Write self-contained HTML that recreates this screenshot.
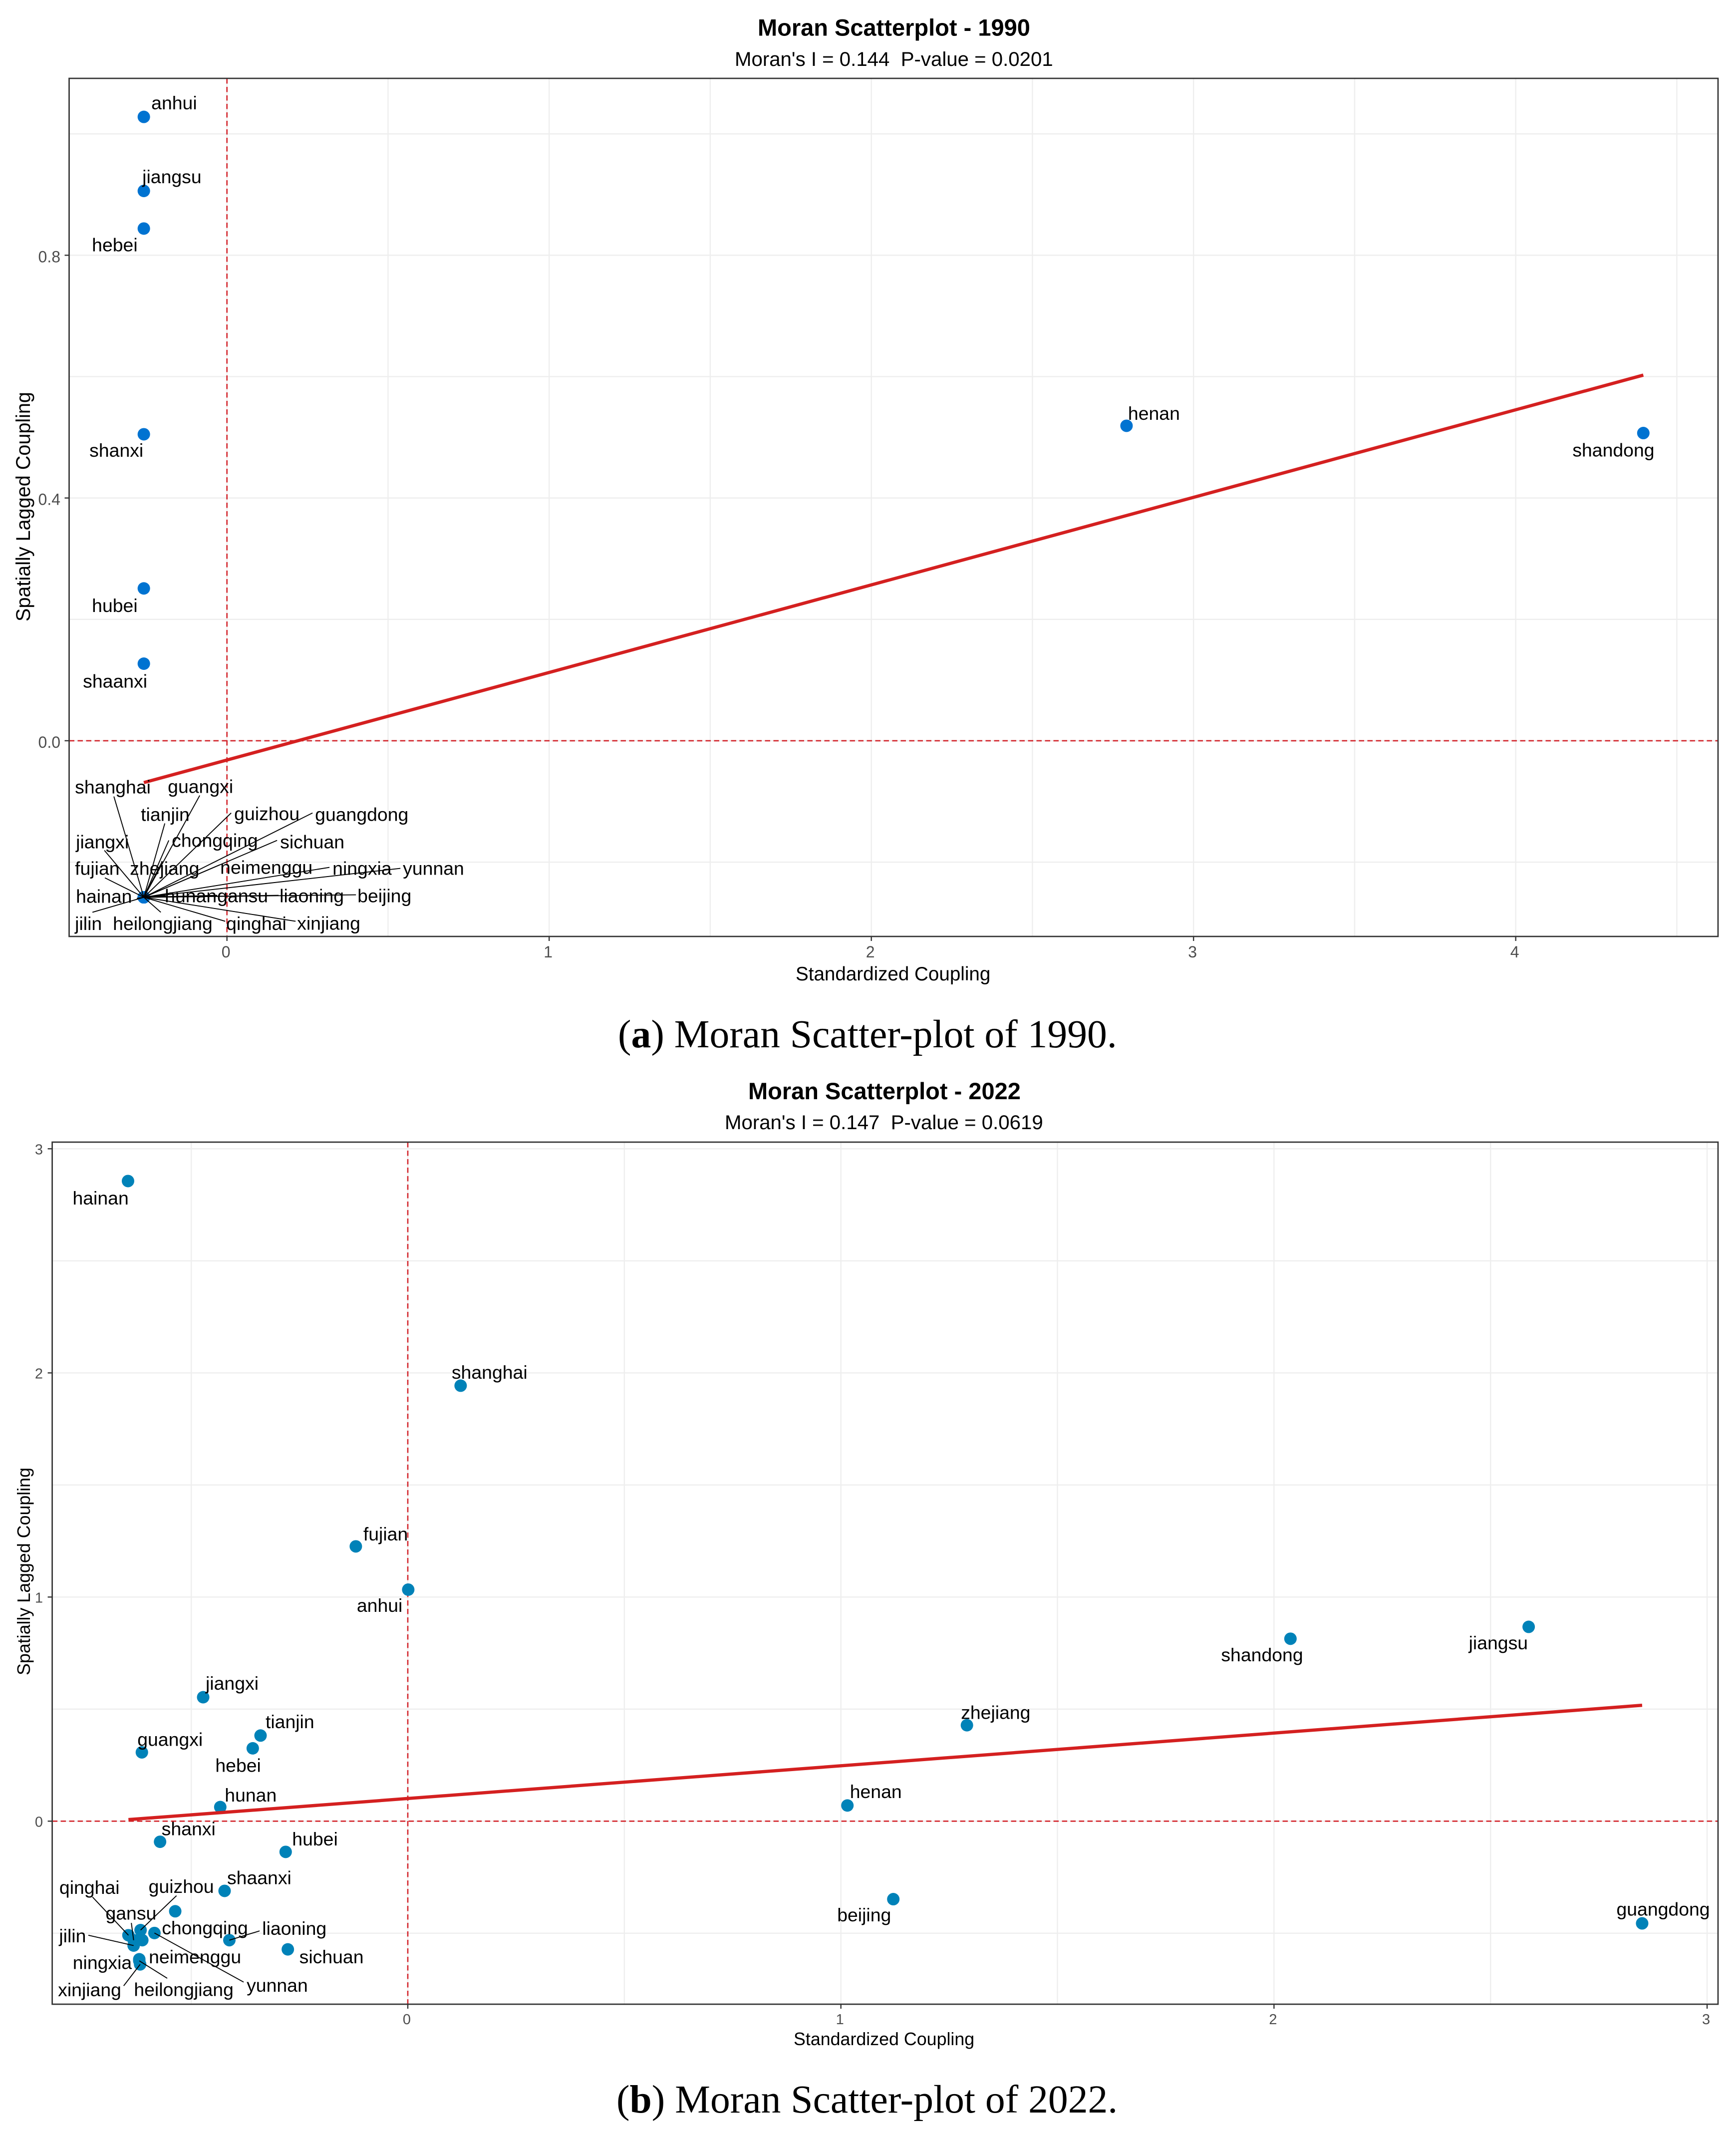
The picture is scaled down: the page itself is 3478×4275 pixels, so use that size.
<!DOCTYPE html>
<html lang="en">
<head>
<meta charset="utf-8">
<title>Moran Scatter-plots of 1990 and 2022</title>
<style>
html,body{margin:0;padding:0;background:#fff;}
svg{display:block;}
text{font-family:"Liberation Sans",sans-serif;white-space:pre;}
.caption{font-family:"Liberation Serif",serif;font-size:79.6px;fill:#000;}
.title{font-size:47px;font-weight:bold;fill:#000;}
.subtitle{font-size:40.2px;fill:#000;}
</style>
</head>
<body>
<svg id="fig" xmlns="http://www.w3.org/2000/svg" width="3478" height="4275" viewBox="0 0 3478 4275">
  <rect x="0" y="0" width="3478" height="4275" fill="#ffffff"/>
  <text class="title" x="1518" y="71.5">Moran Scatterplot - 1990</text>
  <text class="subtitle" x="1472" y="132">Moran's I = 0.144  P-value = 0.0201</text>
  <text class="caption" x="1238" y="2098">(<tspan font-weight="bold">a</tspan>) Moran Scatter-plot of 1990.</text>
  <text class="title" x="1499" y="2202">Moran Scatterplot - 2022</text>
  <text class="subtitle" x="1452" y="2262">Moran's I = 0.147  P-value = 0.0619</text>
  <text class="caption" x="1235" y="4232">(<tspan font-weight="bold">b</tspan>) Moran Scatter-plot of 2022.</text>
</svg>
<script>
// ---------- Data: 1990 ----------
const names1990 = ["anhui","jiangsu","hebei","shanxi","hubei","shaanxi","henan","shandong","shanghai","guangxi","tianjin","guizhou","guangdong","jiangxi","chongqing","sichuan","fujian","zhejiang","neimenggu","ningxia","yunnan","hainan","hunan","gansu","liaoning","beijing","jilin","heilongjiang","qinghai","xinjiang"];
const x1990 = [-0.258,-0.258,-0.258,-0.258,-0.258,-0.258,2.792,4.396,-0.258,-0.258,-0.258,-0.258,-0.258,-0.258,-0.258,-0.258,-0.258,-0.258,-0.258,-0.258,-0.258,-0.258,-0.258,-0.258,-0.258,-0.258,-0.258,-0.258,-0.258,-0.258];
const y1990 = [1.028,0.906,0.844,0.505,0.251,0.127,0.519,0.507,-0.258,-0.258,-0.258,-0.258,-0.258,-0.258,-0.258,-0.258,-0.258,-0.258,-0.258,-0.258,-0.258,-0.258,-0.258,-0.258,-0.258,-0.258,-0.258,-0.258,-0.258,-0.258];
const fitX1990 = [-0.258,4.396];
const fitY1990 = [-0.069,0.6025];
const xTicks1990 = [0,1,2,3,4];
const xTickLabels1990 = ["0","1","2","3","4"];
const yTicks1990 = [0,0.4,0.8];
const yTickLabels1990 = ["0.0","0.4","0.8"];
const xGrid1990 = [0,0.5,1,1.5,2,2.5,3,3.5,4,4.5];
const yGrid1990 = [-0.2,0,0.2,0.4,0.6,0.8,1.0];

// ---------- Data: 2022 ----------
const names2022 = ["hainan","shanghai","fujian","anhui","shandong","jiangsu","jiangxi","tianjin","hebei","guangxi","zhejiang","hunan","henan","beijing","guangdong","shanxi","hubei","shaanxi","sichuan","qinghai","guizhou","gansu","chongqing","liaoning","jilin","neimenggu","ningxia","heilongjiang","xinjiang","yunnan"];
const x2022 = [-0.646,0.122,-0.12,0.001,2.038,2.588,-0.4725,-0.34,-0.358,-0.614,1.291,-0.433,1.015,1.121,2.85,-0.572,-0.282,-0.423,-0.277,-0.645,-0.617,-0.633,-0.537,-0.412,-0.633,-0.613,-0.62,-0.62,-0.618,-0.585];
const y2022 = [2.856,1.943,1.226,1.033,0.814,0.867,0.553,0.382,0.325,0.307,0.428,0.063,0.07,-0.348,-0.456,-0.092,-0.137,-0.311,-0.572,-0.509,-0.486,-0.531,-0.402,-0.531,-0.555,-0.531,-0.616,-0.623,-0.639,-0.499];
const fitX2022 = [-0.645,2.85];
const fitY2022 = [0.007,0.517];
const xTicks2022 = [0,1,2,3];
const xTickLabels2022 = ["0","1","2","3"];
const yTicks2022 = [0,1,2,3];
const yTickLabels2022 = ["0","1","2","3"];
const xGrid2022 = [-0.5,0,0.5,1,1.5,2,2.5,3];
const yGrid2022 = [-0.5,0,0.5,1,1.5,2,2.5,3];

// ---------- Layout (label / connector offsets from each point; not data) ----------
const layout1990 = {
  anhui:[15,-15], jiangsu:[-3,-15.4], hebei:[-104,45.6], shanxi:[-109,45], hubei:[-104,47], shaanxi:[-122,48],
  henan:[3,-12], shandong:[-142,47],
  shanghai:[-138,-208,-60,-202], guangxi:[48,-209,112,-204], tianjin:[-6,-153,42,-148], guizhou:[181,-154.5,175,-169],
  guangdong:[343,-153,338,-169], jiangxi:[-136,-98,-79,-94], chongqing:[56,-101,50,-114], sichuan:[273,-98,267,-114],
  fujian:[-138,-45,-78,-39], zhejiang:[-28,-45,37,-72], neimenggu:[153,-47,152,-65], ningxia:[378,-45,372,-60],
  yunnan:[519,-45,514,-58], hainan:[-136,11,-14,2], hunan:[42,10,44,-3], gansu:[147,10,147,-4], liaoning:[272,10,270,-4],
  beijing:[428,10,425,-5], jilin:[-138,65.5,-103,30], heilongjiang:[-62,65.5,34,30], qinghai:[165,65.5,163,48], xinjiang:[307,65,304,48]
};
const layout2022 = {
  hainan:[-111,47], shanghai:[-18,-14], fujian:[15,-12], anhui:[-103,44.5], shandong:[-139,45], jiangsu:[-120,45],
  jiangxi:[5,-15], tianjin:[10,-15], hebei:[-75,47], guangxi:[-9,-13], zhejiang:[-12,-12.5], hunan:[9,-11], henan:[5,-15],
  beijing:[-112.5,44.6], guangdong:[-51.5,-15.5], shanxi:[3,-13], hubei:[13,-13], shaanxi:[5,-13.4], sichuan:[23,28],
  qinghai:[-138.4,-83,-72,-76.6], guizhou:[16,-74.6,72,-69], gansu:[-56.3,-41,-4.6,-34.6], chongqing:[-26.8,46],
  liaoning:[65.8,-10.7,60.6,-18.6], jilin:[-149.4,-6.4,-90.7,-20.7], neimenggu:[13,46.2], ningxia:[-133.3,19.8],
  heilongjiang:[-10.7,70.7,56,35], xinjiang:[-164.6,63.7,-33,43], yunnan:[184.7,117.6,178.7,98.3]
};

const SVG_NS = "http://www.w3.org/2000/svg";
const fig = document.getElementById("fig");

function make(parent, tag, attrs, text) {
  const node = document.createElementNS(SVG_NS, tag);
  for (const key in attrs) node.setAttribute(key, attrs[key]);
  if (text !== undefined) node.textContent = text;
  parent.appendChild(node);
  return node;
}

function drawPlot(cfg) {
  const xs = v => cfg.x0 + cfg.xUnit * v;
  const ys = v => cfg.y0 - cfg.yUnit * v;
  const group = make(fig, "g", {});
  
  

  cfg.xGrid.forEach(v => {
    const gridX = make(group, "line", {x1:xs(v), x2:xs(v), y1:cfg.top, y2:cfg.bottom, stroke:"#eeeeee", "stroke-width":2.4});
    
    
  });
  cfg.yGrid.forEach(v => {
    const gridY = make(group, "line", {x1:cfg.left, x2:cfg.right, y1:ys(v), y2:ys(v), stroke:"#eeeeee", "stroke-width":2.4});
    
    
  });

  const refV = make(group, "line", {x1:xs(0), x2:xs(0), y1:cfg.top, y2:cfg.bottom, stroke:"#d2232a", "stroke-width":2.6, "stroke-dasharray":"10.5 6.5"});
  
  
  const refH = make(group, "line", {x1:cfg.left, x2:cfg.right, y1:ys(0), y2:ys(0), stroke:"#d2232a", "stroke-width":2.6, "stroke-dasharray":"10.5 6.5"});
  
  

  cfg.names.forEach((name, i) => {
    const dot = make(group, "circle", {cx:xs(cfg.xVals[i]), cy:ys(cfg.yVals[i]), r:12.5, fill:cfg.color});
    
    
  });

  const fit = make(group, "line", {x1:xs(cfg.fitX[0]), y1:ys(cfg.fitY[0]), x2:xs(cfg.fitX[1]), y2:ys(cfg.fitY[1]), stroke:"#d42020", "stroke-width":6.5});
  
  

  cfg.names.forEach((name, i) => {
    const off = cfg.layout[name];
    const px = xs(cfg.xVals[i]);
    const py = ys(cfg.yVals[i]);
    if (off.length > 2) {
      const seg = make(group, "line", {x1:px, y1:py, x2:px + off[2], y2:py + off[3], stroke:"#000000", "stroke-width":1.9});
      
      
    }
    const label = make(group, "text", {x:px + off[0], y:py + off[1], "font-size":37.4, fill:"#000000"}, name);
    
    
  });

  const panel = make(group, "rect", {x:cfg.left, y:cfg.top, width:cfg.right - cfg.left, height:cfg.bottom - cfg.top, fill:"none", stroke:"#333333", "stroke-width":2.7});
  
  

  cfg.xTicks.forEach((v, i) => {
    const tick = make(group, "line", {x1:xs(v), x2:xs(v), y1:cfg.bottom, y2:cfg.bottom + 9, stroke:"#333333", "stroke-width":2.4});
    
    
    const tickText = make(group, "text", {x:xs(v) - 2, y:cfg.xTickBase, "font-size":cfg.tickFont, fill:"#4d4d4d", "text-anchor":"middle"}, cfg.xTickLabels[i]);
    
    
  });
  cfg.yTicks.forEach((v, i) => {
    const tick = make(group, "line", {x1:cfg.left - 9, x2:cfg.left, y1:ys(v), y2:ys(v), stroke:"#333333", "stroke-width":2.4});
    
    
    const tickText = make(group, "text", {x:cfg.yTickRight, y:ys(v) + cfg.yTickShift, "font-size":cfg.tickFont, fill:"#4d4d4d", "text-anchor":"end"}, cfg.yTickLabels[i]);
    
    
  });

  const xTitle = make(group, "text", {x:cfg.xTitleX, y:cfg.xTitleY, "font-size":cfg.axisFont, fill:"#000000"}, "Standardized Coupling");
  
  
  const yTitle = make(group, "text", {x:0, y:0, "font-size":cfg.yAxisFont, fill:"#000000", "text-anchor":"middle", transform:"translate(60 " + cfg.yTitleY + ") rotate(-90)"}, "Spatially Lagged Coupling");
  
  
}

drawPlot({
  year:1990, names:names1990, xVals:x1990, yVals:y1990, fitX:fitX1990, fitY:fitY1990,
  xTicks:xTicks1990, xTickLabels:xTickLabels1990, yTicks:yTicks1990, yTickLabels:yTickLabels1990,
  xGrid:xGrid1990, yGrid:yGrid1990, layout:layout1990, color:"#0073d1",
  left:138.5, right:3442, top:157, bottom:1876,
  x0:454.7, xUnit:645.5, y0:1483.9, yUnit:1215.7,
  tickFont:32, xTickBase:1918, yTickRight:121, yTickShift:14,
  axisFont:38.6, yAxisFont:39.6, xTitleX:1594, xTitleY:1964, yTitleY:1015
});
drawPlot({
  year:2022, names:names2022, xVals:x2022, yVals:y2022, fitX:fitX2022, fitY:fitY2022,
  xTicks:xTicks2022, xTickLabels:xTickLabels2022, yTicks:yTicks2022, yTickLabels:yTickLabels2022,
  xGrid:xGrid2022, yGrid:yGrid2022, layout:layout2022, color:"#0082b8",
  left:104.6, right:3442, top:2288, bottom:4015,
  x0:817, xUnit:867.7, y0:3648.3, yUnit:449,
  tickFont:29, xTickBase:4055, yTickRight:86, yTickShift:11,
  axisFont:35.8, yAxisFont:35.8, xTitleX:1590, xTitleY:4097, yTitleY:3148
});
</script>
</body>
</html>
